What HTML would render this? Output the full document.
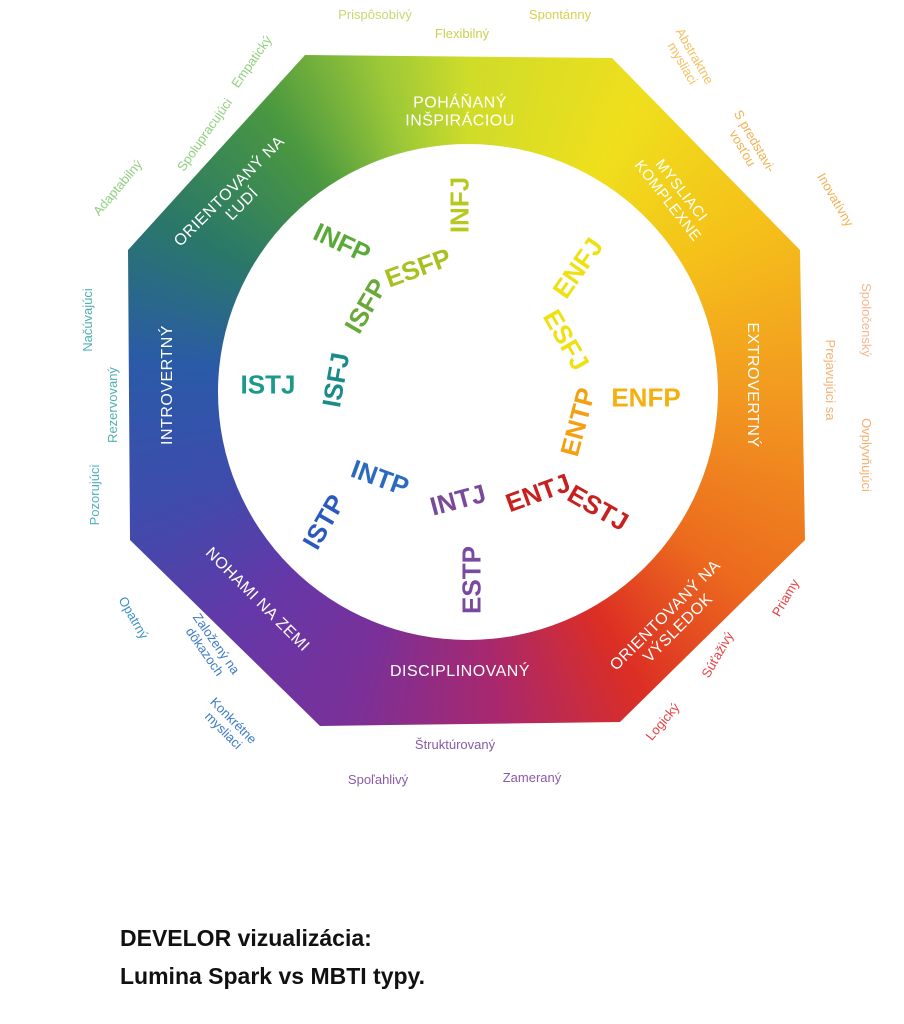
<!DOCTYPE html>
<html><head><meta charset="utf-8"><style>
body{margin:0;background:#fff;width:904px;height:1024px;position:relative;overflow:hidden;font-family:"Liberation Sans",sans-serif}
.oct{position:absolute;left:0;top:0;width:904px;height:1024px;
clip-path:polygon(305px 55px,612px 58px,800px 250px,805px 540px,620px 722px,320px 726px,130px 540px,128px 250px);
background:conic-gradient(from 0deg at 468px 392px,#cfdc2a 0deg,#efdf1c 30deg,#f5c01a 60deg,#f29a20 90deg,#ec6a1e 125deg,#dc2e24 150deg,#a8286e 175deg,#7a3098 200deg,#6438a8 225deg,#3e4cac 250deg,#2a5aa8 275deg,#2a7868 300deg,#4a9840 325deg,#9cc838 345deg,#cfdc2a 360deg)}
.circ{position:absolute;left:218px;top:144px;width:500px;height:496px;border-radius:50%;background:#fff}
.t{position:absolute;white-space:nowrap;transform:translate(-50%,-50%) rotate(var(--r,0deg));line-height:1.1;text-align:center}
.w{color:#fff;font-size:16px;letter-spacing:0.5px}
.m{font-weight:bold;font-size:26px}
.s{font-size:13px}
.f{position:absolute;left:120px;font-weight:bold;font-size:23px;color:#111}
</style></head><body>
<div class="oct"></div><div class="circ"></div>

<div class="t w" style="left:460px;top:112px">POHÁŇANÝ<br>INŠPIRÁCIOU</div>
<div class="t w" style="left:674px;top:196px;--r:52deg;font-size:15px">MYSLIACI<br>KOMPLEXNE</div>
<div class="t w" style="left:752px;top:385px;--r:90deg">EXTROVERTNÝ</div>
<div class="t w" style="left:672px;top:622px;--r:-45deg">ORIENTOVANÝ NA<br>VÝSLEDOK</div>
<div class="t w" style="left:460px;top:672px">DISCIPLINOVANÝ</div>
<div class="t w" style="left:257px;top:600px;--r:45deg">NOHAMI NA ZEMI</div>
<div class="t w" style="left:168px;top:385px;--r:-90deg">INTROVERTNÝ</div>
<div class="t w" style="left:236px;top:198px;--r:-45deg">ORIENTOVANÝ NA<br>ĽUDÍ</div>

<div class="t m" style="left:460px;top:205px;--r:-90deg;color:#b8c820">INFJ</div>
<div class="t m" style="left:342px;top:243px;--r:25deg;color:#5aaa38">INFP</div>
<div class="t m" style="left:418px;top:268px;--r:-20deg;color:#a8c020">ESFP</div>
<div class="t m" style="left:366px;top:306px;--r:-60deg;color:#6aa838">ISFP</div>
<div class="t m" style="left:578px;top:268px;--r:-55deg;color:#f0e010">ENFJ</div>
<div class="t m" style="left:566px;top:340px;--r:60deg;color:#f0e010">ESFJ</div>
<div class="t m" style="left:646px;top:398px;color:#f5b010">ENFP</div>
<div class="t m" style="left:578px;top:422px;--r:-75deg;color:#f5a010">ENTP</div>
<div class="t m" style="left:268px;top:385px;color:#1a9a8a">ISTJ</div>
<div class="t m" style="left:336px;top:380px;--r:-80deg;color:#1a8a8a">ISFJ</div>
<div class="t m" style="left:380px;top:478px;--r:20deg;color:#2a6ac0">INTP</div>
<div class="t m" style="left:324px;top:522px;--r:-60deg;color:#2a5ac0">ISTP</div>
<div class="t m" style="left:458px;top:500px;--r:-15deg;color:#7a4a9a">INTJ</div>
<div class="t m" style="left:538px;top:493px;--r:-20deg;color:#c8201e">ENTJ</div>
<div class="t m" style="left:598px;top:508px;--r:30deg;color:#c8201e">ESTJ</div>
<div class="t m" style="left:472px;top:580px;--r:-90deg;color:#7a4aa0">ESTP</div>

<div class="t s" style="left:375px;top:15px;color:#c8d870">Prispôsobivý</div>
<div class="t s" style="left:462px;top:34px;color:#c8d050">Flexibilný</div>
<div class="t s" style="left:560px;top:15px;color:#d8d050">Spontánny</div>
<div class="t s" style="left:688px;top:60px;--r:60deg;color:#f5c060">Abstraktne<br>mysliaci</div>
<div class="t s" style="left:748px;top:145px;--r:60deg;color:#f5b050">S predstavi-<br>vosťou</div>
<div class="t s" style="left:835px;top:200px;--r:60deg;color:#f5b050">Inovatívny</div>
<div class="t s" style="left:866px;top:320px;--r:90deg;color:#f5b890">Spoločenský</div>
<div class="t s" style="left:830px;top:380px;--r:90deg;color:#f5b070">Prejavujúci sa</div>
<div class="t s" style="left:866px;top:455px;--r:90deg;color:#f5b070">Ovplyvňujúci</div>
<div class="t s" style="left:786px;top:598px;--r:-60deg;color:#e84040">Priamy</div>
<div class="t s" style="left:718px;top:655px;--r:-60deg;color:#e84040">Súťaživý</div>
<div class="t s" style="left:663px;top:722px;--r:-50deg;color:#e84040">Logický</div>
<div class="t s" style="left:455px;top:745px;color:#8a5aa8">Štruktúrovaný</div>
<div class="t s" style="left:378px;top:780px;color:#8a5aa8">Spoľahlivý</div>
<div class="t s" style="left:532px;top:778px;color:#8a5aa8">Zameraný</div>
<div class="t s" style="left:228px;top:726px;--r:45deg;color:#3a7ac8">Konkrétne<br>mysliaci</div>
<div class="t s" style="left:210px;top:648px;--r:55deg;color:#3a7ac8">Založený na<br>dôkazoch</div>
<div class="t s" style="left:133px;top:618px;--r:60deg;color:#3a90c8">Opatrný</div>
<div class="t s" style="left:95px;top:495px;--r:-90deg;color:#50b0c0">Pozorujúci</div>
<div class="t s" style="left:113px;top:405px;--r:-90deg;color:#50b0b0">Rezervovaný</div>
<div class="t s" style="left:88px;top:320px;--r:-90deg;color:#50b0b0">Načúvajúci</div>
<div class="t s" style="left:118px;top:188px;--r:-50deg;color:#90d080">Adaptabilný</div>
<div class="t s" style="left:205px;top:135px;--r:-55deg;color:#90d080">Spolupracujúci</div>
<div class="t s" style="left:252px;top:62px;--r:-55deg;color:#90d080">Empatický</div>

<div class="f" style="top:925px">DEVELOR vizualizácia:</div>
<div class="f" style="top:963px">Lumina Spark vs MBTI typy.</div>
</body></html>
